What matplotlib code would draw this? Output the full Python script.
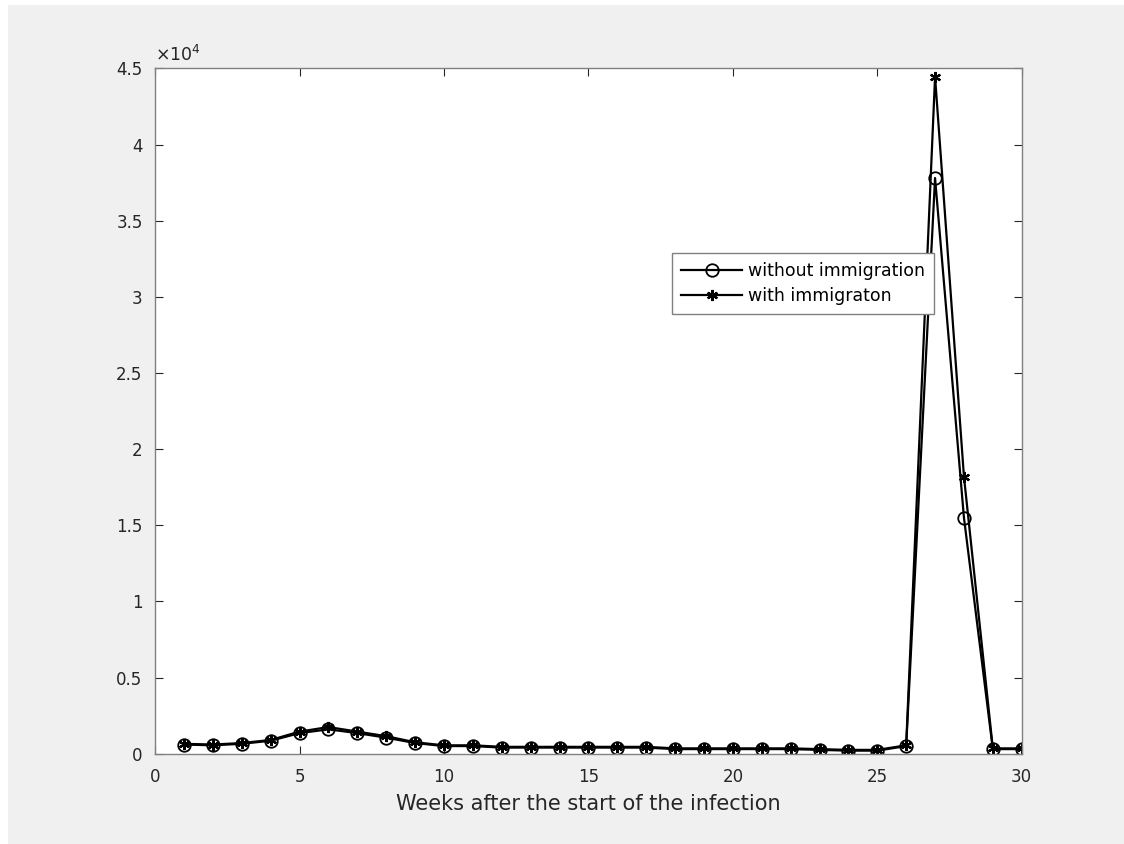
import matplotlib.pyplot as plt
from matplotlib.patches import Rectangle
import numpy as np

weeks = np.arange(1, 31)
without_imm = [600, 550, 650, 850, 1350, 1600, 1350, 1050, 700, 500,
               500, 400, 400, 400, 400, 400, 400, 300, 300, 300,
               300, 300, 250, 200, 200, 500, 37800, 15500, 300, 300]
with_imm = [650, 600, 700, 900, 1450, 1750, 1450, 1150, 750, 550,
            550, 450, 450, 450, 450, 450, 450, 350, 350, 350,
            350, 350, 300, 250, 250, 550, 44450, 18200, 350, 350]

plt.rcParams['font.family'] = 'DejaVu Sans'
fig = plt.figure(figsize=(11.24, 8.44), dpi=100, facecolor='white')
# grey figure area with thin white margin on left/top
fig.patches.append(Rectangle((8 / 1124, 0), 1, 1 - 5 / 844, transform=fig.transFigure,
                             facecolor='#f0f0f0', edgecolor='none', zorder=-10))
ax = fig.add_axes([0.138, 0.107, 0.771, 0.812])

ax.plot(weeks, np.array(without_imm) / 1e4, color='black', lw=1.6, marker='o',
        markersize=9, markerfacecolor='none', markeredgewidth=1.3,
        label='without immigration')
ax.plot(weeks, np.array(with_imm) / 1e4, color='black', lw=1.6, marker=(6, 2, 0),
        markersize=8, markeredgewidth=1.6, label='with immigraton')

ax.set_xlim(0, 30)
ax.set_ylim(0, 4.5)
ax.set_xticks(np.arange(0, 31, 5))
ax.set_yticks(np.arange(0, 4.6, 0.5))
ax.set_yticklabels(['0', '0.5', '1', '1.5', '2', '2.5', '3', '3.5', '4', '4.5'])

ax.tick_params(direction='in', top=True, right=True, length=6,
               labelsize=12, colors='#262626', width=0.8)
ax.tick_params(axis='x', pad=10)
ax.tick_params(axis='y', pad=9)
for s in ax.spines.values():
    s.set_color('#808080')
    s.set_linewidth(1)

ax.set_xlabel('Weeks after the start of the infection', fontsize=15,
              color='#262626', labelpad=6)
ax.text(0.0, 1.005, r'$\times10^{4}$', transform=ax.transAxes, fontsize=12.5,
        color='#262626', va='bottom', ha='left')

leg = ax.legend(loc='upper left', bbox_to_anchor=(0.597, 0.73), fontsize=12.5,
                fancybox=False, framealpha=1, edgecolor='#808080',
                handlelength=3.5, handletextpad=0.35, borderpad=0.5,
                labelspacing=0.4, borderaxespad=0)
leg.get_frame().set_linewidth(1)

fig.savefig('out.png', dpi=100, facecolor=fig.get_facecolor())
